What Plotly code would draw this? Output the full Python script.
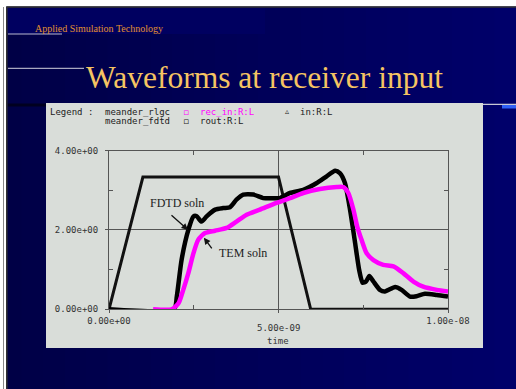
import plotly.graph_objects as go

# ---- waveform data (time in ns, voltage in V) ----
# source / input trapezoid
t_in_ns = [0.0, 1.0, 5.0, 5.95, 10.0]
v_in = [0.0, 3.33, 3.33, 0.0, 0.0]

# FDTD solution at the receiver
t_fdtd_ns = [0.0, 1.92, 2.0, 2.14, 2.34, 2.49, 2.58, 2.73, 2.88, 3.13, 3.37, 3.57,
             3.76, 3.96, 4.26, 4.55, 4.75, 5.04, 5.34, 5.73, 6.13, 6.42, 6.67, 6.81,
             6.96, 7.11, 7.26, 7.38, 7.48, 7.58, 7.68, 7.80, 7.99, 8.14, 8.44, 8.63,
             8.88, 9.07, 9.32, 9.67, 10.0]
v_fdtd = [0.0, 0.0, 0.32, 1.24, 2.0, 2.34, 2.35, 2.21, 2.34, 2.51, 2.55, 2.57,
          2.76, 2.89, 2.89, 2.80, 2.80, 2.80, 2.93, 3.01, 3.18, 3.35, 3.49, 3.43,
          3.18, 2.51, 1.67, 0.99, 0.67, 0.70, 0.84, 0.70, 0.49, 0.45, 0.56, 0.49,
          0.32, 0.33, 0.39, 0.36, 0.32]

# TEM (RLGC) solution at the receiver
t_tem_ns = [1.3, 1.85, 2.05, 2.19, 2.34, 2.49, 2.63, 2.83, 3.13, 3.47, 3.76, 4.06,
            4.45, 4.94, 5.34, 5.73, 6.22, 6.72, 6.91, 7.06, 7.21, 7.32, 7.45, 7.60,
            7.80, 8.09, 8.39, 8.68, 8.98, 9.27, 9.67, 10.0]
v_tem = [0.0, 0.0, 0.15, 0.49, 0.91, 1.41, 1.75, 1.92, 1.98, 2.05, 2.21, 2.38,
         2.51, 2.68, 2.80, 2.93, 3.03, 3.08, 3.08, 2.93, 2.51, 2.09, 1.75, 1.41,
         1.24, 1.12, 1.08, 0.91, 0.70, 0.57, 0.49, 0.45]

x_tickvals = [0.0, 5e-9, 1e-8]
# the middle label sits on a lower row and is placed separately below
x_ticktext = ["0.00e+00", "", "1.00e-08"]
x_mid_label = "5.00e-09"
y_tickvals = [0.0, 2.0, 4.0]
y_ticktext = ["0.00e+00", "2.00e+00", "4.00e+00"]

W, H = 516, 389
MONO = "DejaVu Sans Mono"
SERIF = "Liberation Serif"
PANEL = "#d9ddd9"
NAVY = "#00005a"
AXC = "#555555"


def px(x):
    return x / W


def py(y):
    return 1 - y / H


def ns(vals):
    return [v * 1e-9 for v in vals]


fig = go.Figure()

fig.add_trace(go.Scatter(x=ns(t_in_ns), y=v_in, mode="lines", name="in:R:L",
                         line=dict(color="#111111", width=3), showlegend=False))
fig.add_trace(go.Scatter(x=ns(t_fdtd_ns), y=v_fdtd, mode="lines", name="rout:R:L",
                         line=dict(color="#000000", width=4.5, shape="spline", smoothing=0.6),
                         showlegend=False))
fig.add_trace(go.Scatter(x=ns(t_tem_ns), y=v_tem, mode="lines", name="rec_in:R:L",
                         line=dict(color="#ff00ff", width=4.5, shape="spline", smoothing=0.6),
                         showlegend=False))
# carrier for the mirrored top/right axes
fig.add_trace(go.Scatter(x=[], y=[], xaxis="x2", yaxis="y2", showlegend=False,
                         hoverinfo="skip"))

xdom = [px(109), px(448)]
ydom = [py(309.3), py(150.5)]

axis_common = dict(showline=True, linecolor=AXC, linewidth=1, mirror=True,
                   gridcolor=AXC, gridwidth=1, zeroline=False, automargin=False,
                   ticks="outside", ticklen=3, tickcolor=AXC,
                   tickfont=dict(family=MONO, size=9, color="#333333"))

fig.update_layout(
    width=W, height=H, autosize=False,
    margin=dict(l=0, r=0, t=0, b=0, pad=0, autoexpand=False),
    paper_bgcolor=NAVY, plot_bgcolor=PANEL,
    xaxis=dict(domain=xdom, range=[0, 1e-8], tickmode="array",
               tickvals=x_tickvals, ticktext=x_ticktext, showgrid=True,
               minor=dict(tickvals=[2.5e-9, 7.5e-9], ticks="inside", ticklen=4,
                          tickcolor=AXC, showgrid=False),
               **axis_common),
    yaxis=dict(domain=ydom, range=[0, 4], tickmode="array",
               tickvals=y_tickvals, ticktext=y_ticktext, showgrid=True,
               ticklabelstandoff=5,
               minor=dict(tickvals=[1.0, 3.0], ticks="inside", ticklen=4,
                          tickcolor=AXC, showgrid=False),
               **axis_common),
    xaxis2=dict(domain=xdom, range=[0, 1e-8], overlaying="x", side="top",
                anchor="y2", showticklabels=False, showgrid=False, zeroline=False,
                automargin=False, tickvals=[], ticks="",
                minor=dict(tickvals=[2.5e-9, 7.5e-9], ticks="inside", ticklen=4,
                           tickcolor=AXC, showgrid=False)),
    yaxis2=dict(domain=ydom, range=[0, 4], overlaying="y", side="right",
                anchor="x2", showticklabels=False, showgrid=False, zeroline=False,
                automargin=False, tickvals=[], ticks="",
                minor=dict(tickvals=[1.0, 3.0], ticks="inside", ticklen=4,
                           tickcolor=AXC, showgrid=False)),
)

shapes = []
# slide background: soft left-to-right navy gradient in narrow strips
n_strips = 24
for i in range(n_strips):
    f = i / (n_strips - 1)
    b = int(round(70 + f * (106 - 70)))
    shapes.append(dict(type="rect", xref="paper", yref="paper",
                       x0=i / n_strips, x1=(i + 1) / n_strips + 0.002, y0=0, y1=1,
                       fillcolor=f"rgb(0,0,{b})", line_width=0, layer="below"))
# header band
shapes.append(dict(type="rect", xref="paper", yref="paper", x0=px(7), x1=px(265),
                   y0=py(34), y1=py(8), fillcolor="rgb(0,0,96)", line_width=0, layer="below"))
# slide frame: white outer border with a dark edge
shapes.append(dict(type="rect", xref="paper", yref="paper", x0=0, x1=1,
                   y0=py(6.5), y1=1, fillcolor="#ffffff", line_width=0, layer="below"))
shapes.append(dict(type="rect", xref="paper", yref="paper", x0=0, x1=px(6),
                   y0=0, y1=1, fillcolor="#ffffff", line_width=0, layer="below"))
shapes.append(dict(type="line", xref="paper", yref="paper", x0=px(6.5), x1=1,
                   y0=py(7), y1=py(7), line=dict(color="#333333", width=1.5), layer="below"))
shapes.append(dict(type="line", xref="paper", yref="paper", x0=px(3.5), x1=px(3.5),
                   y0=0, y1=py(7), line=dict(color="#888888", width=1), layer="below"))
shapes.append(dict(type="line", xref="paper", yref="paper", x0=px(6.8), x1=px(6.8),
                   y0=0, y1=py(7), line=dict(color="#333333", width=1.5), layer="below"))
# header rule lines
shapes.append(dict(type="line", xref="paper", yref="paper", x0=px(8), x1=px(62),
                   y0=py(34), y1=py(34), line=dict(color="#b8b8d0", width=1.2), layer="below"))
shapes.append(dict(type="line", xref="paper", yref="paper", x0=px(8), x1=px(84),
                   y0=py(68.3), y1=py(68.3), line=dict(color="#a8a8c0", width=1.2), layer="below"))
shapes.append(dict(type="line", xref="paper", yref="paper", x0=px(8), x1=px(46),
                   y0=py(105), y1=py(105), line=dict(color="#000020", width=3), layer="below"))
shapes.append(dict(type="line", xref="paper", yref="paper", x0=px(483), x1=1,
                   y0=py(104.3), y1=py(104.3), line=dict(color="#c8c8d4", width=1.2), layer="below"))
shapes.append(dict(type="rect", xref="paper", yref="paper", x0=px(502), x1=1,
                   y0=py(108.5), y1=py(105), fillcolor="#2f5ff5", line_width=0, layer="below"))
# chart panel
shapes.append(dict(type="rect", xref="paper", yref="paper", x0=px(46), x1=px(483),
                   y0=py(348), y1=py(103), fillcolor=PANEL, line_width=0, layer="below"))
fig.update_layout(shapes=shapes)

ann = []
ann.append(dict(text="Applied Simulation Technology", x=px(33), y=py(28.5),
                xanchor="left", yanchor="middle", showarrow=False,
                font=dict(family=SERIF, size=10, color="#e0902f")))
ann.append(dict(text="Waveforms at receiver input", x=px(264.5), y=py(77.5),
                xanchor="center", yanchor="middle", showarrow=False,
                font=dict(family=SERIF, size=31.5, color="#f5c462")))

# legend block
leg_font = dict(family=MONO, size=9, color="#222222")
ann.append(dict(text="Legend :", x=px(48), y=py(112), xanchor="left", yanchor="middle",
                showarrow=False, font=leg_font))
ann.append(dict(text="meander_rlgc", x=px(102.5), y=py(112), xanchor="left", yanchor="middle",
                showarrow=False, font=leg_font))
ann.append(dict(text="meander_fdtd", x=px(102.5), y=py(120.7), xanchor="left", yanchor="middle",
                showarrow=False, font=leg_font))
ann.append(dict(text="▫", x=px(186), y=py(112), xanchor="center", yanchor="middle",
                showarrow=False, font=dict(family="DejaVu Sans", size=9, color="#ff00ff")))
ann.append(dict(text="rec_in:R:L", x=px(198), y=py(112), xanchor="left", yanchor="middle",
                showarrow=False, font=dict(family=MONO, size=9, color="#ff00ff")))
ann.append(dict(text="▫", x=px(186), y=py(120.7), xanchor="center", yanchor="middle",
                showarrow=False, font=dict(family="DejaVu Sans", size=9, color="#222222")))
ann.append(dict(text="rout:R:L", x=px(198), y=py(120.7), xanchor="left", yanchor="middle",
                showarrow=False, font=leg_font))
ann.append(dict(text="▵", x=px(287), y=py(112), xanchor="center", yanchor="middle",
                showarrow=False, font=dict(family="DejaVu Sans", size=8, color="#222222")))
ann.append(dict(text="in:R:L", x=px(298), y=py(112), xanchor="left", yanchor="middle",
                showarrow=False, font=leg_font))

# staggered middle tick label and axis title
ann.append(dict(text=x_mid_label, x=5e-9, xref="x", y=py(327.7), xanchor="center",
                yanchor="middle", showarrow=False,
                font=dict(family=MONO, size=9, color="#333333")))
ann.append(dict(text="time", x=px(278), y=py(340.7), xanchor="center", yanchor="middle",
                showarrow=False, font=dict(family=MONO, size=9, color="#333333")))

# callouts
note_font = dict(family=SERIF, size=12, color="#222222")
ann.append(dict(text="FDTD soln", x=px(176.5), y=py(203), xanchor="center", yanchor="middle",
                showarrow=False, font=note_font))
ann.append(dict(text="", x=2.33e-9, y=2.0, xref="x", yref="y", showarrow=True,
                ax=-18, ay=-16, arrowhead=2, arrowsize=1, arrowwidth=1.3,
                arrowcolor="#111111", standoff=0))
ann.append(dict(text="TEM soln", x=px(242.5), y=py(253.3), xanchor="center", yanchor="middle",
                showarrow=False, font=note_font))
ann.append(dict(text="", x=2.80e-9, y=1.80, xref="x", yref="y", showarrow=True,
                ax=9, ay=12, arrowhead=2, arrowsize=1, arrowwidth=1.3,
                arrowcolor="#111111", standoff=0))

for a in ann:
    a.setdefault("xref", "paper")
    a.setdefault("yref", "paper")
fig.update_layout(annotations=ann)

fig.write_html("out.html")
